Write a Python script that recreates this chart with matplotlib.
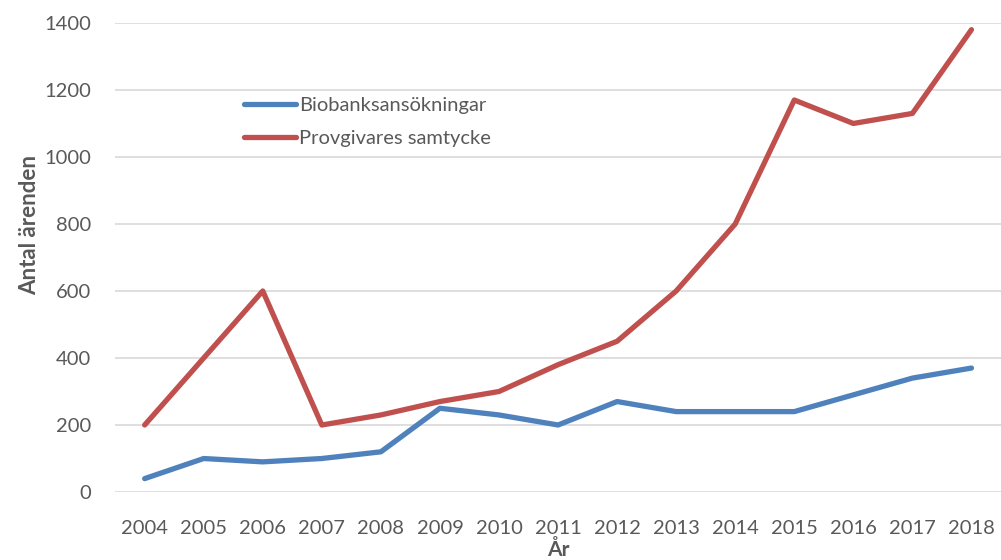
import matplotlib.pyplot as plt

plt.rcParams['font.family'] = ['Lato', 'DejaVu Sans']

# Data
ar = ['2004', '2005', '2006', '2007', '2008', '2009', '2010', '2011',
      '2012', '2013', '2014', '2015', '2016', '2017', '2018']
biobank = [40, 100, 90, 100, 120, 250, 230, 200, 270, 240, 240, 240, 290, 340, 370]
samtycke = [200, 400, 600, 200, 230, 270, 300, 380, 450, 600, 800, 1170, 1100, 1130, 1380]

grå = '#595959'

fig = plt.figure(figsize=(10.01, 5.6), dpi=100)
ax = fig.add_axes([0.115, 0.1214, 0.885, 0.8376])

x = range(len(ar))
ax.plot(x, biobank, color='#4F81BD', lw=3.8, solid_capstyle='round',
        solid_joinstyle='round', label='Biobanksansökningar')
ax.plot(x, samtycke, color='#C0504D', lw=3.8, solid_capstyle='round',
        solid_joinstyle='round', label='Provgivares samtycke')

ax.set_xlim(-0.5, len(ar) - 0.5)
ax.set_ylim(0, 1400)
ax.set_yticks(range(0, 1401, 200))
ax.set_xticks(list(x))
ax.set_xticklabels(ar)
ax.grid(axis='y', color='#D9D9D9', lw=1.2)
ax.set_axisbelow(True)
for s in ax.spines.values():
    s.set_visible(False)
ax.tick_params(length=0, labelsize=14.5, colors=grå)
ax.tick_params(axis='x', pad=20)
ax.tick_params(axis='y', pad=17)

ax.set_ylabel('Antal ärenden', fontsize=16, fontweight='bold', color=grå)
ax.yaxis.set_label_coords(-0.085, 0.57)
ax.set_xlabel('År', fontsize=15, fontweight='bold', color=grå, labelpad=2)

ax.legend(loc='upper left', bbox_to_anchor=(0.125, 0.88), frameon=False,
          fontsize=14.5, labelcolor=grå, handlelength=2.6, handletextpad=0.15,
          labelspacing=0.75)

plt.savefig('out.png', dpi=100)
